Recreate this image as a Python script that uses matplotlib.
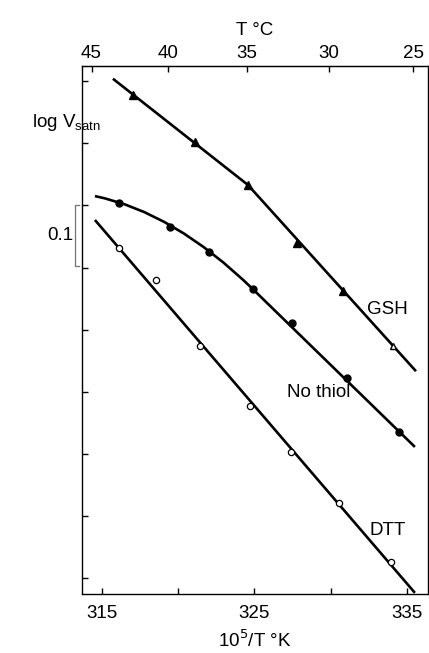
import matplotlib
matplotlib.use("Agg")
import matplotlib.pyplot as plt
from matplotlib.path import Path
from matplotlib.patches import PathPatch
import numpy as np

plt.rcParams['font.family'] = ['Liberation Sans', 'DejaVu Sans']

# x: 10^5/T (K), y: log V_satn (arbitrary origin, 0.1 per tick)
gsh_x = [317.03, 321.10, 324.57, 327.79, 330.80, 334.08]
gsh_y = [0.778, 0.702, 0.633, 0.539, 0.462, 0.374]
gsh_fit_x = [315.72, 324.57, 335.59]
gsh_fit_y = [0.804, 0.633, 0.333]

nothiol_x = [316.11, 319.46, 322.02, 324.90, 327.46, 331.07, 334.48]
nothiol_y = [0.604, 0.565, 0.525, 0.465, 0.411, 0.322, 0.235]
# fitted curve: quadratic bend (start, control, join) then straight to end
nothiol_fit_x = [314.54, 319.73, 324.90, 335.52]
nothiol_fit_y = [0.615, 0.589, 0.465, 0.211]

dtt_x = [316.11, 318.54, 321.43, 324.70, 327.39, 330.54, 333.95]
dtt_y = [0.531, 0.480, 0.374, 0.277, 0.203, 0.121, 0.026]
dtt_fit_x = [314.54, 335.52]
dtt_fit_y = [0.5765, -0.024]

bottom_ticks = [315, 320, 325, 330, 335]
bottom_labels = ['315', '', '325', '', '335']
top_ticks_c = [45, 40, 35, 30, 25]
y_ticks = [0.0, 0.1, 0.2, 0.3, 0.4, 0.5, 0.6, 0.7, 0.8]

fs = 13.5
fig = plt.figure(figsize=(4.29, 6.53), dpi=100)
ax = fig.add_axes([0.1911, 0.0904, 0.8066, 0.8085])

lw = 1.9
ax.plot(gsh_fit_x, gsh_fit_y, color='black', lw=lw, solid_capstyle='butt')
ax.plot(dtt_fit_x, dtt_fit_y, color='black', lw=lw, solid_capstyle='butt')
verts = list(zip(nothiol_fit_x, nothiol_fit_y))
codes = [Path.MOVETO, Path.CURVE3, Path.CURVE3, Path.LINETO]
ax.add_patch(PathPatch(Path(verts, codes), facecolor='none', edgecolor='black',
                       lw=lw, capstyle='butt', joinstyle='round'))

ax.plot(gsh_x[:-1], gsh_y[:-1], linestyle='none', marker='^', ms=6, color='black')
ax.plot(gsh_x[-1:], gsh_y[-1:], linestyle='none', marker='^', ms=5, mfc='white', mec='black', mew=1)
ax.plot(nothiol_x, nothiol_y, linestyle='none', marker='o', ms=5, color='black')
ax.plot(dtt_x, dtt_y, linestyle='none', marker='o', ms=4.5, mfc='white', mec='black', mew=0.9)

ax.text(333.7, 0.433, 'GSH', fontsize=fs, ha='center', va='center')
ax.text(329.2, 0.298, 'No thiol', fontsize=fs, ha='center', va='center')
ax.text(333.7, 0.077, 'DTT', fontsize=fs, ha='center', va='center')

ax.set_xlim(313.69, 336.38)
ax.set_ylim(-0.0258, 0.8245)

ax.set_xticks(bottom_ticks)
ax.set_xticklabels(bottom_labels, fontsize=fs)
ax.set_yticks(y_ticks)
ax.set_yticklabels([])
ax.tick_params(axis='both', direction='in', length=4, width=1, pad=8)
ax.tick_params(axis='y', left=True, right=False)
ax.set_xlabel('10$^5$/T °K', fontsize=fs, labelpad=5)

for s in ax.spines.values():
    s.set_linewidth(1.0)

sec = ax.secondary_xaxis('top', functions=(lambda x: 1e5 / np.asarray(x, float) - 273.15,
                                           lambda c: 1e5 / (np.asarray(c, float) + 273.15)))
sec.set_xticks(top_ticks_c)
sec.set_xticklabels([str(t) for t in top_ticks_c], fontsize=fs)
sec.tick_params(direction='in', length=4, width=1, pad=3)
sec.set_xlabel('T °C', fontsize=fs, labelpad=7)

fig.text(0.075, 0.813, 'log V$_{\\mathregular{satn}}$', fontsize=fs, ha='left', va='center')

# 0.1 log-unit scale bracket
yb0 = 1 - 266 / 653
yb1 = 1 - 205 / 653
xb = 75 / 429
xs = 79 / 429
fig.add_artist(plt.Line2D([xs, xb, xb, xs], [yb1, yb1, yb0, yb0], color='0.45', lw=0.9))
fig.text(0.14, (yb0 + yb1) / 2, '0.1', fontsize=fs, ha='center', va='center')

fig.savefig('out.png', dpi=100)
